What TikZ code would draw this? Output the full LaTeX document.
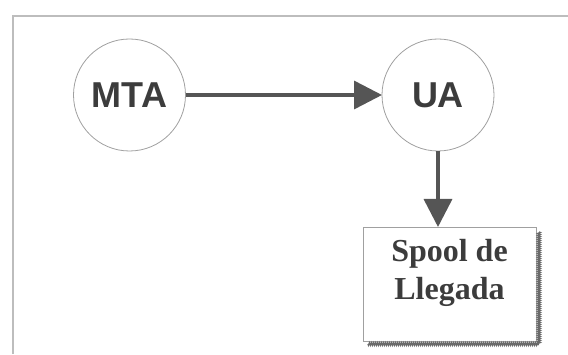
\documentclass[tikz,border=0pt]{standalone}
\usepackage{fontspec}
\setmainfont{Liberation Serif}
\newfontfamily\arial{Liberation Sans}
\usetikzlibrary{positioning, arrows.meta, decorations.pathmorphing}

\definecolor{marco}{HTML}{BDBDBD}
\definecolor{borde}{HTML}{A0A0A0}
\definecolor{flecha}{HTML}{555555}
\definecolor{texto}{HTML}{3C3C3C}
\definecolor{sombra}{HTML}{6A6A6A}

\tikzset{
	proceso/.style={circle, draw=borde, line width=0.8pt, minimum size=112pt,
		inner sep=0pt, outer sep=0pt, text=texto,
		font=\arial\bfseries\fontsize{36}{36}\selectfont},
	caja/.style={rectangle, draw=borde, line width=0.8pt, minimum width=173pt,
		minimum height=114pt, inner sep=0pt, outer sep=0pt},
	flujo/.style={draw=flecha, line width=3.5pt,
		-{Triangle[length=28pt, width=28pt]}},
}

\begin{document}
\begin{tikzpicture}[x=1pt, y=1pt]

	\useasboundingbox (0,0) rectangle (568,354);

	% marco de la figura
	\draw[marco, line width=1.6pt] (13,0) -- (13,338) -- (568,338);

	\node[proceso] (mta) at (129.5,259) {MTA};
	\node[proceso, right=196.5pt of mta] (ua) {UA};
	\node[caja, below=76pt of ua, xshift=11.5pt] (spool) {};
	\node[text=texto, align=center, font=\bfseries\fontsize{32}{38}\selectfont,
		yshift=11pt] (spooltxt) at (spool) {Spool de\\Llegada};

	% sombra dentada de la caja
	\draw[sombra, line width=1.4pt, decorate,
		decoration={zigzag, segment length=2pt, amplitude=1.2pt}]
	([xshift=3pt]spool.north east) ++(0,-5) |- ([xshift=5pt, yshift=-3pt]spool.south west);

	\draw[flujo] (mta) -- (ua);
	\draw[flujo] (ua) -- (ua |- spool.north);

\end{tikzpicture}
\end{document}
